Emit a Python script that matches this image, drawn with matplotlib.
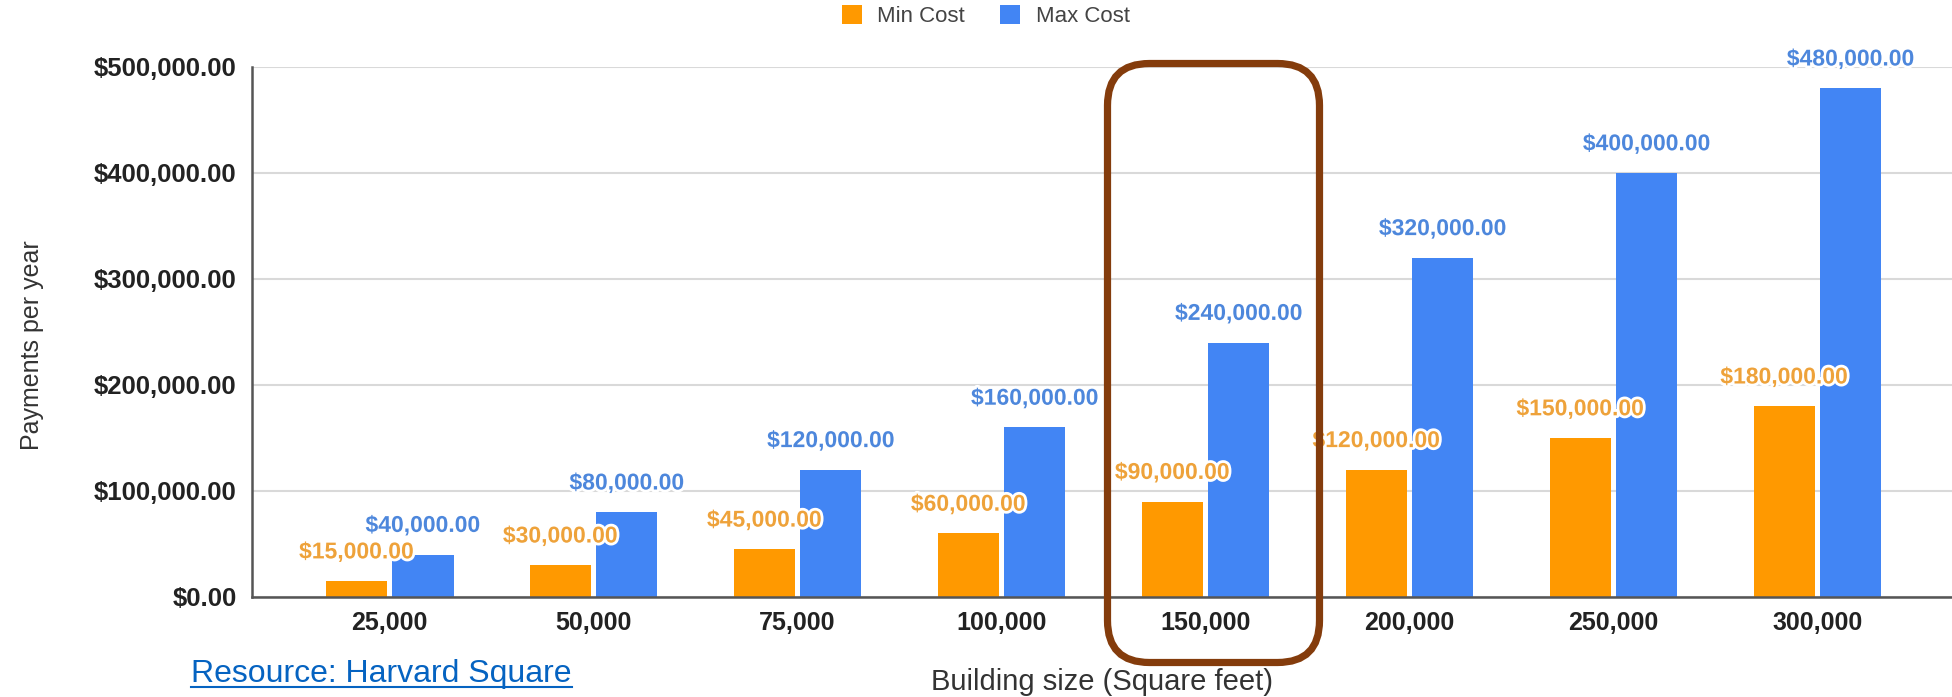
import matplotlib
matplotlib.use('Agg')
import matplotlib.pyplot as plt
import matplotlib.patheffects as pe
from matplotlib.patches import FancyBboxPatch
import numpy as np

# building sizes and yearly payments
sizes = ['25,000', '50,000', '75,000', '100,000', '150,000', '200,000', '250,000', '300,000']
min_cost = [15000, 30000, 45000, 60000, 90000, 120000, 150000, 180000]
max_cost = [40000, 80000, 120000, 160000, 240000, 320000, 400000, 480000]
y_ticks = [0, 100000, 200000, 300000, 400000, 500000]

plt.rcParams['font.family'] = ['Liberation Sans', 'DejaVu Sans']

fig = plt.figure(figsize=(19.52, 6.97), dpi=100)
ax = fig.add_axes([0.129, 0.1435, 0.871, 0.7604])

x = np.arange(len(sizes))
w = 0.30
off = 0.163
orange = '#ff9900'
blue = '#4285f4'

b1 = ax.bar(x - off, min_cost, w, color=orange, label='Min Cost', zorder=2)
b2 = ax.bar(x + off, max_cost, w, color=blue, label='Max Cost', zorder=2)

halo = [pe.withStroke(linewidth=4, foreground='white')]
for xi, v in zip(x - off, min_cost):
    ax.annotate('${:,.2f}'.format(v), (xi, v), xytext=(0, 21), textcoords='offset points',
                ha='center', va='center', fontsize=16.5, fontweight='bold',
                color='#eea23a', path_effects=halo, zorder=3)
for xi, v in zip(x + off, max_cost):
    ax.annotate('${:,.2f}'.format(v), (xi, v), xytext=(0, 21), textcoords='offset points',
                ha='center', va='center', fontsize=16.5, fontweight='bold',
                color='#4d87dc', path_effects=halo, zorder=3)

ax.set_xlim(-0.676, 7.66)
ax.set_ylim(0, 500000)
ax.set_yticks(y_ticks)
ax.set_yticklabels(['${:,.2f}'.format(t) for t in y_ticks])
ax.set_xticks(x)
ax.set_xticklabels(sizes)
ax.tick_params(length=0)
ax.tick_params(axis='y', pad=11, labelsize=18.5, labelcolor='#222222')
ax.tick_params(axis='x', pad=10, labelsize=18, labelcolor='#222222')
for lab in ax.get_xticklabels() + ax.get_yticklabels():
    lab.set_fontweight('bold')

ax.grid(axis='y', color='#d9d9d9', linewidth=1.5, zorder=0)
for s in ['top', 'right']:
    ax.spines[s].set_visible(False)
ax.spines['left'].set_color('#555555')
ax.spines['bottom'].set_color('#555555')
ax.spines['left'].set_linewidth(1.8)
ax.spines['bottom'].set_linewidth(1.8)

fig.text(0.0165, 0.505, 'Payments per year', rotation=90, ha='center', va='center',
         fontsize=18, color='#333333')
fig.text(0.5645, 0.022, 'Building size (Square feet)', ha='center', va='center',
         fontsize=21, color='#333333')

fig.legend(handles=[b1, b2], loc='center', bbox_to_anchor=(0.505, 0.977), ncol=2,
           frameon=False, fontsize=16, handlelength=0.9, handleheight=0.9,
           handletextpad=0.7, columnspacing=1.6, labelcolor='#444444')

# source note
src = fig.text(0.098, 0.033, 'Resource: Harvard Square', ha='left', va='center', fontsize=23,
               color='#0563c1')
fig.canvas.draw()
bb = src.get_window_extent()
fig.add_artist(plt.Line2D([bb.x0 / fig.bbox.width, bb.x1 / fig.bbox.width],
                          [(bb.y0 + 2) / fig.bbox.height] * 2, color='#0563c1', linewidth=1.5))

# highlight box around the 150,000 group
box = FancyBboxPatch((11.075, 0.345), 2.12, 5.99, boxstyle='round,pad=0,rounding_size=0.42',
                     transform=fig.dpi_scale_trans, fill=False, edgecolor='#843c0c',
                     linewidth=5.2, zorder=5)
fig.add_artist(box)

fig.savefig('out.png', dpi=100)
